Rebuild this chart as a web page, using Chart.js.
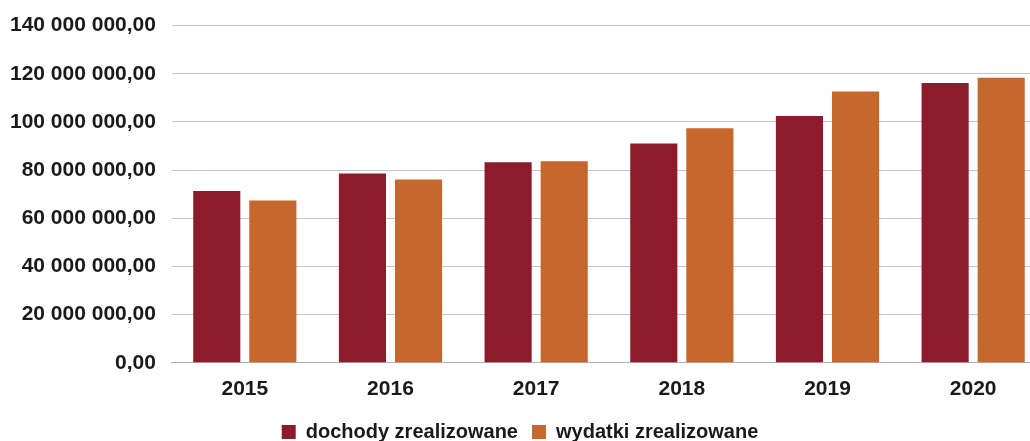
<!DOCTYPE html>
<html>
<head>
<meta charset="utf-8">
<script src="https://cdn.jsdelivr.net/npm/chart.js@4/dist/chart.umd.min.js"></script>
<style>
    html, body { margin: 0; padding: 0; background: #fff; overflow: hidden; }
    #wrap { position: relative; width: 1046px; height: 455px; margin-top: -3px; }
</style>
</head>
<body>
<div id="wrap"><canvas id="wykres"></canvas></div>
<script>
// Dane
const lata = ['2015', '2016', '2017', '2018', '2019', '2020'];
const dochody = [71300000, 78600000, 83300000, 91000000, 102500000, 116200000];
const wydatki = [67400000, 76100000, 83700000, 97400000, 112600000, 118300000];

// Format: 140 000 000,00
function formatuj(v) {
    const calk = Math.round(v).toString().replace(/\B(?=(\d{3})+(?!\d))/g, ' ');
    return calk + ',00';
}

const ctx = document.getElementById('wykres').getContext('2d');
const wykres = new Chart(ctx, {
    type: 'bar',
    data: {
        labels: lata,
        datasets: [
            {
                label: 'dochody zrealizowane',
                data: dochody,
                backgroundColor: '#8e1b2b',
                categoryPercentage: 0.77,
                barPercentage: 0.84
            },
            {
                label: 'wydatki zrealizowane',
                data: wydatki,
                backgroundColor: '#c6672d',
                categoryPercentage: 0.77,
                barPercentage: 0.84
            }
        ]
    },
    options: {
        responsive: true,
        maintainAspectRatio: false,
        animation: false,
        layout: {
            padding: { top: 0, left: -6, right: 0, bottom: 0 }
        },
        plugins: {
            legend: {
                display: true,
                position: 'bottom',
                labels: {
                    color: '#1a1a1a',
                    boxWidth: 14,
                    boxHeight: 14,
                    padding: 14,
                    font: { family: 'Liberation Sans, Arial', size: 20, weight: 'bold' }
                }
            },
            tooltip: { enabled: false }
        },
        scales: {
            x: {
                grid: { display: false },
                border: { display: true, color: '#b0b0b0' },
                ticks: {
                    color: '#1a1a1a',
                    padding: 6,
                    font: { family: 'Liberation Sans, Arial', size: 21, weight: 'bold' }
                }
            },
            y: {
                min: 0,
                max: 140000000,
                border: { display: false },
                grid: {
                    color: '#c6c3c7',
                    drawTicks: false
                },
                ticks: {
                    stepSize: 20000000,
                    padding: 16,
                    color: '#1a1a1a',
                    font: { family: 'Liberation Sans, Arial', size: 21, weight: 'bold' },
                    callback: (v) => formatuj(v)
                }
            }
        }
    }
});
</script>
</body>
</html>
